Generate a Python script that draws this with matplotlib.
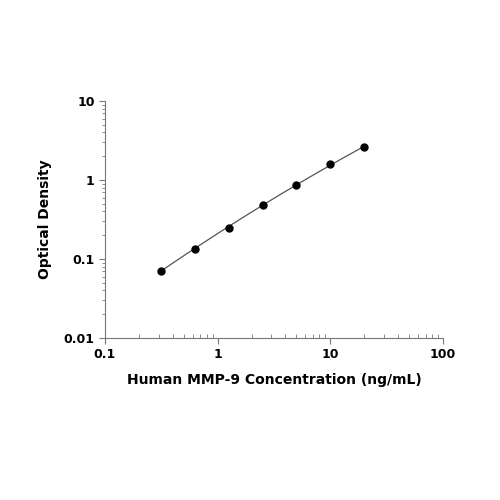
import numpy as np
import matplotlib.pyplot as plt

conc = [0.3125, 0.625, 1.25, 2.5, 5, 10, 20]
od = [0.071, 0.135, 0.25, 0.48, 0.87, 1.6, 2.6]

fig = plt.figure(figsize=(5, 5), dpi=100)
ax = fig.add_axes([0.21, 0.324, 0.676, 0.474])

# smooth curve through points in log-log space
lx, ly = np.log10(conc), np.log10(od)
coef = np.polyfit(lx, ly, 2)
xs = np.linspace(lx[0], lx[-1], 100)
ax.plot(10 ** xs, 10 ** np.polyval(coef, xs), color='#555555', lw=0.9)
ax.plot(conc, od, 'o', color='black', ms=5)

ax.set_xscale('log')
ax.set_yscale('log')
ax.set_xlim(0.1, 100)
ax.set_ylim(0.01, 10)
ax.set_xticks([0.1, 1, 10, 100])
ax.set_xticklabels(['0.1', '1', '10', '100'])
ax.set_yticks([0.01, 0.1, 1, 10])
ax.set_yticklabels(['0.01', '0.1', '1', '10'])
for s in ['top', 'right']:
    ax.spines[s].set_visible(False)
for s in ['left', 'bottom']:
    ax.spines[s].set_color('#777777')
ax.tick_params(axis='both', which='major', length=4, color='#777777', labelsize=9)
ax.tick_params(axis='x', which='minor', direction='in', length=3, color='#777777')
ax.tick_params(axis='y', which='minor', length=2, color='#777777')
for lab in ax.get_xticklabels() + ax.get_yticklabels():
    lab.set_fontweight('bold')
ax.set_xlabel('Human MMP-9 Concentration (ng/mL)', fontsize=10, fontweight='bold', labelpad=8)
ax.set_ylabel('Optical Density', fontsize=10, fontweight='bold', labelpad=8)

fig.savefig('out.png', dpi=100)
